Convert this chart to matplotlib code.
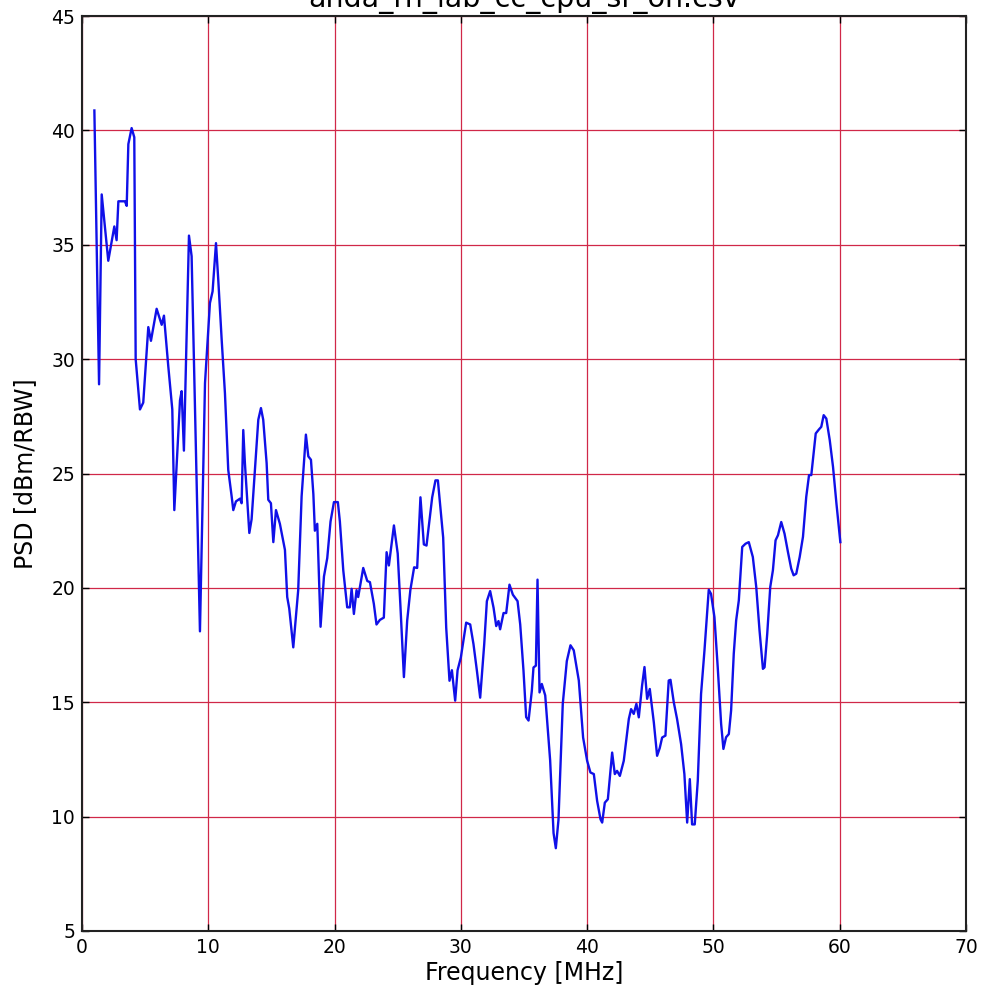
import matplotlib
matplotlib.use("Agg")
import matplotlib.pyplot as plt

freq_mhz = [
    0.98, 1.35, 1.56, 2.08, 2.56, 2.74, 2.88, 3.40, 3.54, 3.67, 3.93, 4.14,
    4.25, 4.59, 4.85, 5.25, 5.46, 5.91, 6.31, 6.49, 6.83, 7.15, 7.31, 7.76,
    7.89, 8.07, 8.47, 8.68, 9.34, 9.74, 10.13, 10.34, 10.61, 10.79, 11.06,
    11.32, 11.58, 11.85, 11.98, 12.19, 12.51, 12.64, 12.77, 12.90, 13.25,
    13.43, 13.69, 13.96, 14.17, 14.35, 14.62, 14.75, 14.96, 15.15, 15.36,
    15.67, 16.07, 16.25, 16.41, 16.73, 17.12, 17.39, 17.73, 17.92, 18.13,
    18.32, 18.44, 18.63, 18.89, 19.16, 19.42, 19.68, 19.95, 20.26, 20.42,
    20.69, 21.00, 21.21, 21.35, 21.53, 21.74, 21.87, 22.27, 22.59, 22.80,
    23.11, 23.32, 23.59, 23.90, 24.12, 24.30, 24.70, 25.00, 25.22, 25.49,
    25.75, 26.00, 26.30, 26.54, 26.80, 27.07, 27.28, 27.73, 27.99, 28.18,
    28.60, 28.84, 29.10, 29.29, 29.55, 29.74, 30.00, 30.42, 30.74, 31.00,
    31.27, 31.53, 31.85, 32.06, 32.32, 32.59, 32.80, 32.98, 33.11, 33.38,
    33.59, 33.85, 34.12, 34.49, 34.70, 34.96, 35.17, 35.36, 35.62, 35.75,
    35.94, 36.07, 36.23, 36.41, 36.68, 37.07, 37.34, 37.52, 37.73, 38.07,
    38.39, 38.68, 38.94, 39.34, 39.68, 40.00, 40.26, 40.53, 40.79, 41.06,
    41.19, 41.40, 41.64, 41.98, 42.19, 42.37, 42.59, 42.90, 43.30, 43.48,
    43.69, 43.90, 44.09, 44.35, 44.54, 44.75, 44.96, 45.28, 45.54, 45.75,
    45.94, 46.20, 46.46, 46.60, 46.86, 47.12, 47.44, 47.70, 47.92, 48.13,
    48.31, 48.52, 48.76, 49.02, 49.29, 49.63, 49.81, 50.08, 50.34, 50.61,
    50.79, 51.00, 51.22, 51.40, 51.61, 51.80, 52.01, 52.28, 52.54, 52.80,
    53.12, 53.39, 53.65, 53.92, 54.05, 54.26, 54.50, 54.71, 54.92, 55.11,
    55.37, 55.63, 55.90, 56.16, 56.35, 56.56, 56.83, 57.09, 57.35, 57.57,
    57.75, 58.10, 58.36, 58.54, 58.73, 58.94, 59.21, 59.47, 59.74, 59.95,
    60.05,
]

psd_dbm = [
    40.87, 28.9, 37.2, 34.3, 35.8, 35.2, 36.9, 36.9, 36.7, 39.4, 40.1, 39.7,
    30.0, 27.8, 28.1, 31.4, 30.8, 32.2, 31.5, 31.9, 29.7, 27.8, 23.4, 28.2,
    28.6, 26.0, 35.4, 34.5, 18.1, 28.95, 32.45, 32.96, 35.07, 33.47, 30.85,
    28.5, 25.16, 24.0, 23.4, 23.78, 23.9, 23.7, 26.9, 25.45, 22.4,
    23.0, 25.16, 27.35, 27.86, 27.35, 25.45, 23.85, 23.7, 22.0, 23.4,
    22.8, 21.66, 19.6, 19.1, 17.4, 19.9, 24.0, 26.7, 25.75, 25.6,
    24.1, 22.5, 22.8, 18.3, 20.5, 21.3, 22.9, 23.75, 23.75, 22.9,
    20.76, 19.15, 19.15, 19.96, 18.86, 19.9, 19.6, 20.87, 20.3, 20.25,
    19.3, 18.4, 18.6, 18.7, 21.56, 20.98, 22.73, 21.5, 19.15, 16.1,
    18.57, 19.9, 20.9, 20.87, 23.96, 21.9, 21.85, 23.96, 24.7, 24.7,
    22.2, 18.26, 15.94, 16.4, 15.07, 16.4, 16.96, 18.48, 18.4, 17.54,
    16.38, 15.2, 17.54, 19.42, 19.86, 19.13, 18.33, 18.55, 18.19, 18.9,
    18.9, 20.14, 19.7, 19.42, 18.4, 16.38, 14.35, 14.2, 15.5, 16.52,
    16.6, 20.36, 15.43, 15.8, 15.3, 12.46, 9.28, 8.62, 9.86, 14.93,
    16.8, 17.49, 17.27, 15.95, 13.46, 12.44, 11.93, 11.86, 10.69, 9.88,
    9.74, 10.61, 10.76, 12.8, 11.86, 12.0, 11.78, 12.44, 14.27, 14.7,
    14.49, 14.93, 14.34, 15.73, 16.54, 15.15, 15.58, 14.12, 12.66, 13.0,
    13.46, 13.54, 15.95, 15.98, 15.0, 14.27, 13.17, 11.86, 9.74, 11.64,
    9.66, 9.66, 11.56, 15.36, 17.26, 19.92, 19.74, 18.72, 16.53, 14.05,
    12.96, 13.47, 13.61, 14.64, 17.12, 18.58, 19.45, 21.79, 21.93, 22.0,
    21.35, 20.04, 18.14, 16.46, 16.53, 17.99, 20.04, 20.77, 22.08, 22.3,
    22.88, 22.37, 21.57, 20.84, 20.55, 20.62, 21.35, 22.23, 23.98, 24.93,
    24.93, 26.75, 26.93, 27.04, 27.55, 27.4, 26.46, 25.29, 23.69, 22.52,
    22.0,
]

x_ticks = [0, 10, 20, 30, 40, 50, 60, 70]
y_ticks = [5, 10, 15, 20, 25, 30, 35, 40, 45]
title_text = "anda_rn_lab_cc_cpu_sr_on.csv"
x_label = "Frequency [MHz]"
y_label = "PSD [dBm/RBW]"

fig = plt.figure(figsize=(9.85, 9.93), dpi=100)
ax = fig.add_axes([82 / 985, 1 - 931 / 993, (966 - 82) / 985, (931 - 16) / 993])

ax.plot(freq_mhz, psd_dbm, color="#1010e8", linewidth=1.7)

ax.set_xlim(0, 70)
ax.set_ylim(5, 45)
ax.set_xticks(x_ticks)
ax.set_yticks(y_ticks)
ax.grid(True, color="#d02848", linewidth=0.9)
ax.set_axisbelow(True)
ax.tick_params(direction="in", top=True, right=True, labelsize=13.5,
               length=5, width=1, pad=5)
for s in ax.spines.values():
    s.set_linewidth(1.5)
    s.set_color("#222222")

ax.set_xlabel(x_label, fontsize=17, labelpad=3)
ax.set_ylabel(y_label, fontsize=17, labelpad=10)
ax.set_title(title_text, fontsize=20.5, pad=6.5)

fig.savefig("out.png", dpi=100)
